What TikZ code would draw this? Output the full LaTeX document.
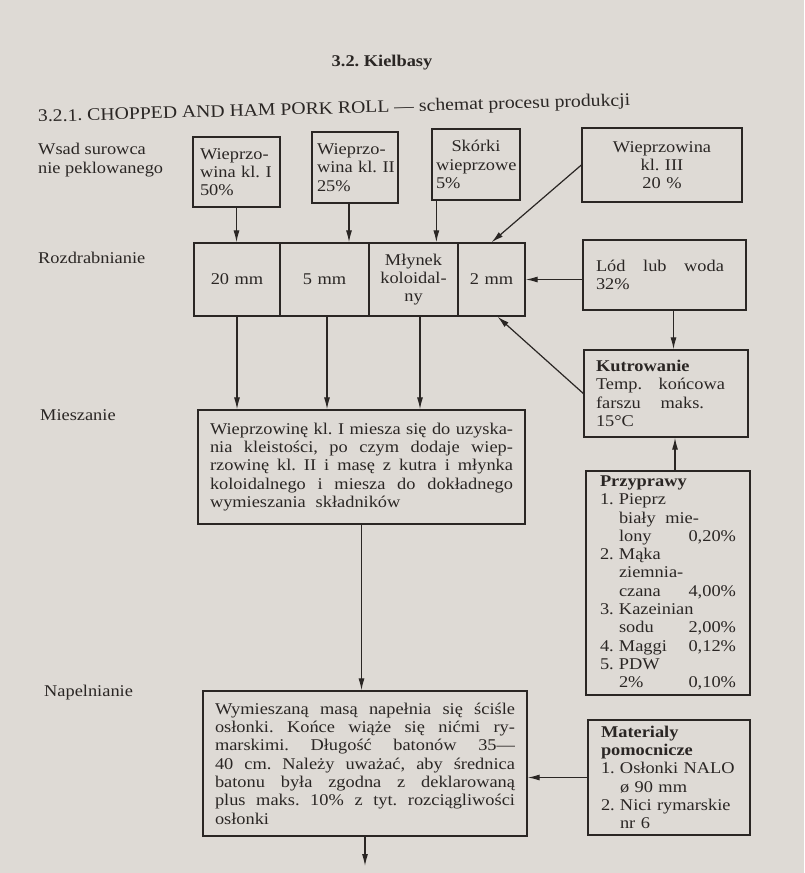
\documentclass[tikz,border=0pt]{standalone}
\usepackage{fontspec}
\setmainfont{Liberation Serif}[FakeStretch=1.12]
\usetikzlibrary{arrows.meta}
\definecolor{paper}{RGB}{222,218,213}
\definecolor{ink}{RGB}{42,38,36}
\frenchspacing
\newcommand{\bodyfont}{\fontsize{16.4}{18.3}\selectfont}
\newcommand{\PLfull}[1]{\leavevmode{\spaceskip=0.25em plus 1fil minus 0.1em\relax\hbox to \linewidth{#1}}}
\newcommand{\PLline}[1]{\leavevmode\hbox to \linewidth{#1\hss}}
\newcommand{\PLspr}[2]{\hbox to #1{#2}}
\newcommand{\PLind}{\hspace*{19pt}}
\tikzset{
  bx/.style={draw=ink, line width=1.3pt, inner sep=0pt, align=left, font=\bodyfont, text=ink},
  cell/.style={draw=ink, line width=1.3pt, inner sep=0pt, align=center, font=\bodyfont, text=ink, minimum height=73},
  lbl/.style={inner sep=0pt, font=\bodyfont, text=ink, anchor=west, align=left},
  arr/.style={draw=ink, line width=1.2pt, -{Latex[length=12pt,width=6pt]}},
}
\begin{document}
\begin{tikzpicture}[x=1pt,y=-1pt]
\fill[paper] (0,0) rectangle (804,873);
\useasboundingbox (0,0) rectangle (804,873);

% headings
\node[font=\bodyfont\bfseries, text=ink, inner sep=0pt] (hd) at (382,63) {3.2. Kielbasy};
\node[font=\fontsize{17.6}{19}\selectfont, text=ink, inner sep=0pt, anchor=base west, rotate=1.6] (sec) at (38,122)
  {3.2.1. CHOPPED AND HAM PORK ROLL — schemat procesu produkcji};

% left labels
\node[lbl] (l1) at (38,160) {Wsad surowca\\nie peklowanego};
\node[lbl] (l2) at (38,258) {Rozdrabnianie};
\node[lbl] (l3) at (40,415) {Mieszanie};
\node[lbl] (l4) at (44,693) {Napelnianie};

% raw material boxes
\node[bx, minimum width=87, minimum height=70, text width=73] (A) at (236.5,172)
  {\PLline{Wieprzo-}\\\PLline{wina kl. I}\\50\%};
\node[bx, minimum width=86, minimum height=71, text width=76] (B) at (355,167.5)
  {\PLline{Wieprzo-}\\\PLline{wina kl. II}\\25\%};
\node[bx, minimum width=88, minimum height=71, text width=80] (C) at (476,164.5)
  {\PLline{\hss Skórki}\\\PLline{wieprzowe}\\5\%};
\node[bx, align=center, minimum width=160, minimum height=74, text width=140] (D) at (662,165)
  {Wieprzowina\\kl. III\\20 \%};

% grinding row
\node[cell, minimum width=86, text width=80] (c1) at (237,279.5) {20 mm};
\node[cell, minimum width=89, text width=80] (c2) at (324.5,279.5) {5 mm};
\node[cell, minimum width=89, text width=85] (c3) at (413.5,279.5) {Młynek\\koloidal-\\ny};
\node[cell, minimum width=67, text width=64] (c4) at (491.5,279.5) {2 mm};

% right column
\node[bx, minimum width=163, minimum height=70, text width=137] (Lod) at (664.5,275)
  {\PLline{\PLspr{128pt}{Lód\hfil lub\hfil woda}}\\32\%};
\node[bx, minimum width=164, minimum height=87, text width=140] (Kut) at (666,393.5)
  {\textbf{Kutrowanie}\\\PLline{\PLspr{129pt}{Temp.\hfil końcowa}}\\\PLline{\PLspr{108pt}{farszu\hfil maks.}}\\15°C};
\node[bx, minimum width=164, minimum height=224, text width=136] (Przy) at (668,583)
  {\textbf{Przyprawy}\\
   \PLline{\makebox[19pt][l]{1.}Pieprz}\\
   \PLline{\PLind\PLspr{80pt}{biały\hfil mie-}}\\
   \PLline{\PLind lony\hfill 0,20\%}\\
   \PLline{\makebox[19pt][l]{2.}Mąka}\\
   \PLline{\PLind ziemnia-}\\
   \PLline{\PLind czana\hfill 4,00\%}\\
   \PLline{\makebox[19pt][l]{3.}Kazeinian}\\
   \PLline{\PLind sodu\hfill 2,00\%}\\
   \PLline{\makebox[19pt][l]{4.}Maggi\hfill 0,12\%}\\
   \PLline{\makebox[19pt][l]{5.}PDW}\\
   \PLline{\PLind 2\%\hfill 0,10\%}};
\node[bx, minimum width=162, minimum height=115, text width=136] (Mat) at (669,777.5)
  {\textbf{Materialy}\\\textbf{pomocnicze}\\
   \PLline{\makebox[19pt][l]{1.}Osłonki NALO}\\
   \PLline{\PLind ø 90 mm}\\
   \PLline{\makebox[19pt][l]{2.}Nici rymarskie}\\
   \PLline{\PLind nr 6}};

% mixing
\node[bx, minimum width=327, minimum height=114, text width=303] (Mies) at (361.5,467)
  {\PLfull{Wieprzowinę kl. I miesza się do uzyska-}\\
   \PLfull{nia kleistości, po czym dodaje wiep-}\\
   \PLfull{rzowinę kl. II i masę z kutra i młynka}\\
   \PLfull{koloidalnego i miesza do dokładnego}\\
   wymieszania\hspace{0.6em}składników};

% filling
\node[bx, minimum width=324, minimum height=145, text width=300] (Nap) at (365,763.5)
  {\PLfull{Wymieszaną masą napełnia się ściśle}\\
   \PLfull{osłonki. Końce wiąże się nićmi ry-}\\
   \PLfull{marskimi. Długość batonów 35—}\\
   \PLfull{40 cm. Należy uważać, aby średnica}\\
   \PLfull{batonu była zgodna z deklarowaną}\\
   \PLfull{plus maks. 10\% z tyt. rozciągliwości}\\
   osłonki};

\coordinate (out) at (363,866);

% connectors
\draw[arr] (A.south) -- (A.south |- c1.north);
\draw[arr] ([xshift=-6pt]B.south) -- ([xshift=-6pt]B.south |- c2.north);
\draw[arr] ([xshift=5pt]C.south west) -- ([xshift=5pt]C.south west |- c3.north);
\draw[arr] (D.west) -- (c4.north);
\draw[arr] (Lod.west |- c4.east) -- (c4.east);
\draw[arr] ([xshift=9pt]Lod.south) -- ([xshift=9pt]Lod.south |- Kut.north);
\draw[arr] (Kut.west) -- ([xshift=6pt]c4.south);
\draw[arr] ([xshift=7pt]Przy.north) -- ([xshift=7pt]Przy.north |- Kut.south);
\draw[arr] (c1.south) -- (c1.south |- Mies.north);
\draw[arr] ([xshift=2.5pt]c2.south) -- ([xshift=2.5pt]c2.south |- Mies.north);
\draw[arr] ([xshift=6.5pt]c3.south) -- ([xshift=6.5pt]c3.south |- Mies.north);
\draw[arr] (Mies.south) -- (Mies.south |- Nap.north);
\draw[arr] (Mat.west) -- (Mat.west -| Nap.east);
\draw[arr] (Nap.south) -- (Nap.south |- out);
\end{tikzpicture}
\end{document}
